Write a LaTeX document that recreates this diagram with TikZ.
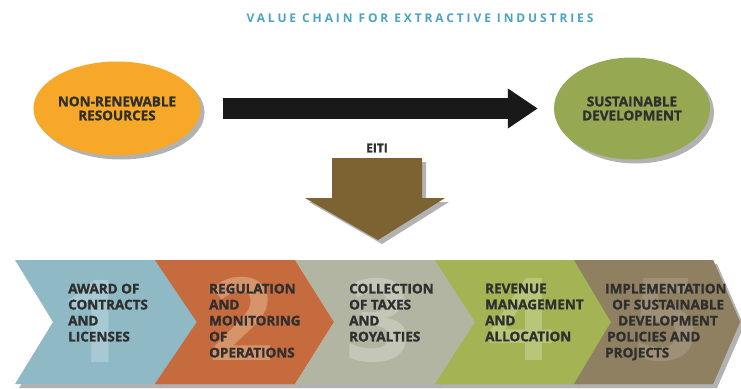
\documentclass[tikz,border=0pt]{standalone}
\usepackage{fontspec}
\setmainfont{Open Sans}[BoldFeatures={FakeBold=1.3}]
\newfontfamily\titlefont{Open Sans}
\usetikzlibrary{shapes.geometric,arrows.meta,shadows}
\definecolor{titlec}{HTML}{4BA3C3}
\definecolor{orangec}{HTML}{F7A828}
\definecolor{greenc}{HTML}{97A852}
\definecolor{arrowbrown}{HTML}{7D6232}
\definecolor{txt}{HTML}{2F2F2F}
\definecolor{cA}{HTML}{8FB9C5}\definecolor{nA}{HTML}{A6C9D3}
\definecolor{cB}{HTML}{C66B3D}\definecolor{nB}{HTML}{D6946B}
\definecolor{cC}{HTML}{B3B5A3}\definecolor{nC}{HTML}{C4C6B7}
\definecolor{cD}{HTML}{A4B455}\definecolor{nD}{HTML}{B8C67A}
\definecolor{cE}{HTML}{8F8061}\definecolor{nE}{HTML}{9E9077}
\tikzset{
  shad/.style={drop shadow={shadow xshift=4pt,shadow yshift=-4pt,opacity=.3,fill=black}},
  blob/.style={ellipse,inner sep=0pt,shad,font=\bfseries\fontsize{13.5}{14}\selectfont,text=txt,align=center},
  steptext/.style={anchor=north west,inner sep=0pt,align=left,text=txt,font=\bfseries\fontsize{13.5}{16}\selectfont},
  bignum/.style={inner sep=0pt,font=\titlefont\bfseries\fontsize{115}{115}\selectfont},
}
\begin{document}
\begin{tikzpicture}[x=1pt,y=-1pt]
\useasboundingbox (0,0) rectangle (741,388);
\fill[white] (0,0) rectangle (741,388);
% title
\node[text=titlec,font=\titlefont\bfseries\fontsize{12}{13}\selectfont\addfontfeature{LetterSpace=24}] (title) at (420,18) {VALUE CHAIN FOR EXTRACTIVE INDUSTRIES};
% ellipses
\node[blob,fill=orangec,minimum width=166pt,minimum height=94pt] (nr) at (117,108.5) {NON-RENEWABLE\\RESOURCES};
\node[blob,fill=greenc,minimum width=156pt,minimum height=102pt] (sd) at (632,108.5) {SUSTAINABLE\\DEVELOPMENT};
\draw[line width=21pt,draw=black!90,-{Triangle[length=30pt,width=38pt]},shorten <=22pt,shorten >=16pt] (nr.east) -- (sd.west);
% EITI
\node[font=\bfseries\fontsize{12}{13}\selectfont,text=txt] (eiti) at (377,148) {EITI};
\path[fill=arrowbrown,shad] (332,158) -- (422,158) -- (422,198) -- (445,198) -- (378,240) -- (305,198) -- (332,198) -- cycle;
% chevrons
\path[fill=cA,shad] (15,260) -- (155,260) -- (197,322) -- (155,384) -- (15,384) -- (53,322) -- cycle;
\path[fill=cB,shad] (155,260) -- (295,260) -- (334,322) -- (295,384) -- (155,384) -- (197,322) -- cycle;
\path[fill=cC,shad] (295,260) -- (435,260) -- (475,322) -- (435,384) -- (295,384) -- (334,322) -- cycle;
\path[fill=cD,shad] (435,260) -- (574,260) -- (611,322) -- (574,384) -- (435,384) -- (475,322) -- cycle;
\path[fill=cE,shad] (574,260) -- (713,260) -- (740,322) -- (713,384) -- (574,384) -- (611,322) -- cycle;
\fill[cB] (155,260) -- (295,260) -- (334,322) -- (295,384) -- (155,384) -- (197,322) -- cycle;
\fill[cC] (295,260) -- (435,260) -- (475,322) -- (435,384) -- (295,384) -- (334,322) -- cycle;
\fill[cD] (435,260) -- (574,260) -- (611,322) -- (574,384) -- (435,384) -- (475,322) -- cycle;
\fill[cE] (574,260) -- (713,260) -- (740,322) -- (713,384) -- (574,384) -- (611,322) -- cycle;
% big numbers
\node[bignum,text=nA] (n1) at (94,321) {1};
\node[bignum,text=nB] (n2) at (241,319) {2};
\node[bignum,text=nC] (n3) at (378,320) {3};
\node[bignum,text=nD] (n4) at (521,319) {4};
\node[bignum,text=nE] (n5) at (666,320) {5};
% texts
\node[steptext] (t1) at (68,283.5) {AWARD OF\\CONTRACTS\\AND\\LICENSES};
\node[steptext] (t2) at (209,283.5) {REGULATION\\AND\\MONITORING\\OF\\OPERATIONS};
\node[steptext] (t3) at (349,283.5) {COLLECTION\\OF TAXES\\AND\\ROYALTIES};
\node[steptext] (t4) at (485,283.5) {REVENUE\\MANAGEMENT\\AND\\ALLOCATION};
\node[steptext] (t5) at (605,283.5) {IMPLEMENTATION\\\hspace*{7pt}OF SUSTAINABLE\\\hspace*{13pt}DEVELOPMENT\\\hspace*{2pt}POLICIES AND\\PROJECTS};
\end{tikzpicture}
\end{document}
